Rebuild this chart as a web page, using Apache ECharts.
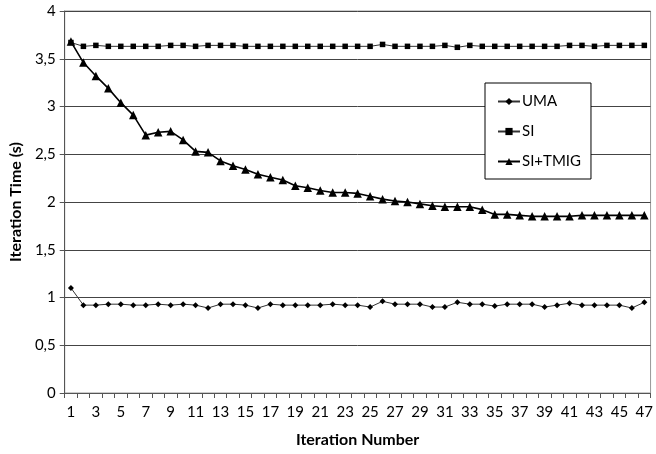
<!DOCTYPE html>
<html>
<head>
<meta charset="utf-8">
<script src="https://cdn.jsdelivr.net/npm/echarts@6/dist/echarts.min.js"></script>
<style>
  html, body { margin: 0; padding: 0; background: #fff; }
  #chart { width: 656px; height: 454px; }
</style>
</head>
<body>
<div id="chart"></div>
<script>
// Iteration numbers 1..47
const iterations = [
  1,2,3,4,5,6,7,8,9,10,11,12,13,14,15,16,17,18,19,20,21,22,23,24,
  25,26,27,28,29,30,31,32,33,34,35,36,37,38,39,40,41,42,43,44,45,46,47
];

// Iteration time in seconds per strategy
const umaTimes = [
  1.10,0.92,0.92,0.93,0.93,0.92,0.92,0.93,0.92,0.93,0.92,0.89,0.93,0.93,0.92,0.89,
  0.93,0.92,0.92,0.92,0.92,0.93,0.92,0.92,0.90,0.96,0.93,0.93,0.93,0.90,0.90,0.95,
  0.93,0.93,0.91,0.93,0.93,0.93,0.90,0.92,0.94,0.92,0.92,0.92,0.92,0.89,0.95
];
const siTimes = [
  3.67,3.63,3.64,3.63,3.63,3.63,3.63,3.63,3.64,3.64,3.63,3.64,3.64,3.64,3.63,3.63,
  3.63,3.63,3.63,3.63,3.63,3.63,3.63,3.63,3.63,3.65,3.63,3.63,3.63,3.63,3.64,3.62,
  3.64,3.63,3.63,3.63,3.63,3.63,3.63,3.63,3.64,3.64,3.63,3.64,3.64,3.64,3.64
];
const siTmigTimes = [
  3.68,3.46,3.32,3.19,3.04,2.91,2.70,2.73,2.74,2.65,2.53,2.52,2.43,2.38,2.34,2.29,
  2.26,2.23,2.17,2.15,2.12,2.10,2.10,2.09,2.06,2.03,2.01,2.00,1.98,1.96,1.95,1.95,
  1.95,1.92,1.87,1.87,1.86,1.85,1.85,1.85,1.85,1.86,1.86,1.86,1.86,1.86,1.86
];

// Y axis ticks (seconds)
const yTicks = [0, 0.5, 1, 1.5, 2, 2.5, 3, 3.5, 4];

const FONT = 'Lato, "Open Sans", sans-serif';
const chart = echarts.init(document.getElementById('chart'), null, { renderer: 'canvas' });

chart.setOption({
  animation: false,
  backgroundColor: '#fff',
  textStyle: { fontFamily: FONT, color: '#000' },
  grid: {
    left: 63, right: 5, top: 11, bottom: 61,
    show: true, borderColor: '#999', borderWidth: 1, backgroundColor: 'transparent'
  },
  legend: {
    orient: 'vertical',
    left: 485, top: 83,
    width: 107,
    padding: [11, 10, 10, 12],
    itemGap: 15,
    itemWidth: 22, itemHeight: 9,
    backgroundColor: '#fff',
    borderColor: '#000', borderWidth: 1,
    textStyle: { fontFamily: FONT, fontSize: 15, color: '#000', padding: [0, 0, 0, -3] },
    data: ['UMA', 'SI', 'SI+TMIG']
  },
  xAxis: {
    type: 'category',
    data: iterations,
    boundaryGap: true,
    name: 'Iteration Number',
    nameLocation: 'middle',
    nameGap: 39,
    nameTextStyle: { fontFamily: FONT, fontSize: 16, fontWeight: 'bold', color: '#000' },
    axisLine: { lineStyle: { color: '#555', width: 1 } },
    axisTick: { show: true, length: 5, alignWithLabel: false, interval: 0, lineStyle: { color: '#555' } },
    axisLabel: { interval: 1, fontSize: 15, color: '#000', margin: 12, fontFamily: FONT },
    splitLine: { show: false }
  },
  yAxis: {
    type: 'value',
    min: yTicks[0], max: yTicks[yTicks.length - 1], interval: 0.5,
    name: 'Iteration Time (s)',
    nameLocation: 'middle',
    nameGap: 36,
    nameTextStyle: { fontFamily: FONT, fontSize: 16, fontWeight: 'bold', color: '#000' },
    axisLine: { show: true, lineStyle: { color: '#555', width: 1 } },
    axisTick: { show: true, length: 5, lineStyle: { color: '#555' } },
    axisLabel: {
      fontSize: 15, color: '#000', margin: 9, fontFamily: FONT,
      formatter: v => String(v).replace('.', ',')
    },
    splitLine: { show: true, lineStyle: { color: '#444', width: 1 } }
  },
  series: [
    {
      name: 'UMA', type: 'line', data: umaTimes,
      symbol: 'diamond', symbolSize: 6, showSymbol: true, showAllSymbol: true,
      lineStyle: { color: '#333', width: 1 },
      itemStyle: { color: '#000' }
    },
    {
      name: 'SI', type: 'line', data: siTimes,
      symbol: 'rect', symbolSize: 5.5, showSymbol: true, showAllSymbol: true,
      lineStyle: { color: '#333', width: 1 },
      itemStyle: { color: '#000' }
    },
    {
      name: 'SI+TMIG', type: 'line', data: siTmigTimes,
      symbol: 'triangle', symbolSize: 8.5, showSymbol: true, showAllSymbol: true,
      lineStyle: { color: '#000', width: 1.6 },
      itemStyle: { color: '#000' }
    }
  ]
});
</script>
</body>
</html>
